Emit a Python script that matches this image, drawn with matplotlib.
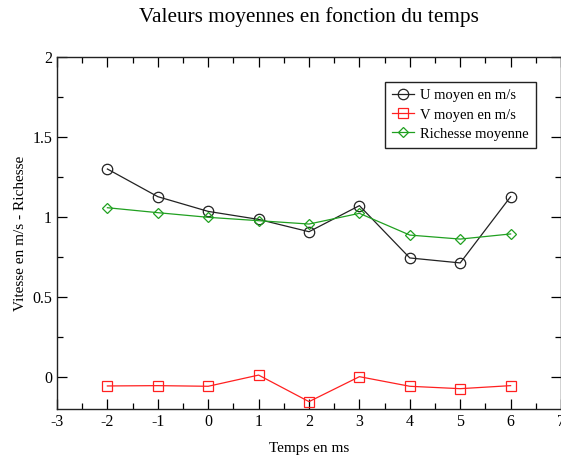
import matplotlib.pyplot as plt
from matplotlib.ticker import MultipleLocator

temps = [-2, -1, 0, 1, 2, 3, 4, 5, 6]
u_moyen = [1.30, 1.127, 1.035, 0.985, 0.908, 1.071, 0.744, 0.713, 1.127]
v_moyen = [-0.056, -0.054, -0.058, 0.012, -0.154, 0.002, -0.058, -0.073, -0.054]
richesse = [1.058, 1.027, 0.998, 0.977, 0.956, 1.023, 0.887, 0.862, 0.894]

plt.rcParams['font.family'] = ['Liberation Serif', 'DejaVu Serif']

fig = plt.figure(figsize=(5.61, 4.59), dpi=100)
ax = fig.add_axes([57/561, 1-409/459, 504/561, 352/459])

ax.plot(temps, u_moyen, color="#222222", lw=0.9, marker="o", ms=7.5, mfc="none",
        mew=0.9, label="U moyen en m/s")
ax.plot(temps, v_moyen, color="#ff2020", lw=0.9, marker="s", ms=6.5, mfc="none",
        mew=0.9, label="V moyen en m/s")
ax.plot(temps, richesse, color="#20a020", lw=0.9, marker="D", ms=5.5, mfc="none",
        mew=0.9, label="Richesse moyenne")

ax.set_xlim(-3, 7)
ax.set_ylim(-0.2, 2)
ax.xaxis.set_minor_locator(MultipleLocator(0.5))
ax.yaxis.set_minor_locator(MultipleLocator(0.25))
ax.set_yticks([0, 0.5, 1, 1.5, 2])
ax.set_yticklabels(["0", "0.5", "1", "1.5", "2"])
ax.set_xticks(range(-3, 8))
ax.set_xticklabels([str(t) for t in range(-3, 8)])
ax.tick_params(which="both", direction="in", top=True, right=True, labelsize=11.5, width=0.9)
ax.tick_params(which="major", length=7)
ax.tick_params(which="minor", length=4)
for s in ax.spines.values():
    s.set_linewidth(1.0)
    s.set_color("#222222")

ax.set_xlabel("Temps en ms", fontsize=11, labelpad=8.5)
ax.set_ylabel("Vitesse en m/s - Richesse", fontsize=11, labelpad=3.5)
fig.text(309/561, 1-17/459, "Valeurs moyennes en fonction du temps", fontsize=15.3,
         ha="center", va="center")

leg = ax.legend(loc="upper left", bbox_to_anchor=(0.651, 0.929), borderaxespad=0,
                fontsize=10.5, fancybox=False, framealpha=1, edgecolor="#222222",
                handlelength=1.5, handletextpad=0.4, labelspacing=0.4, borderpad=0.5)
leg.get_frame().set_linewidth(1.0)

fig.savefig("out.png", dpi=100)
